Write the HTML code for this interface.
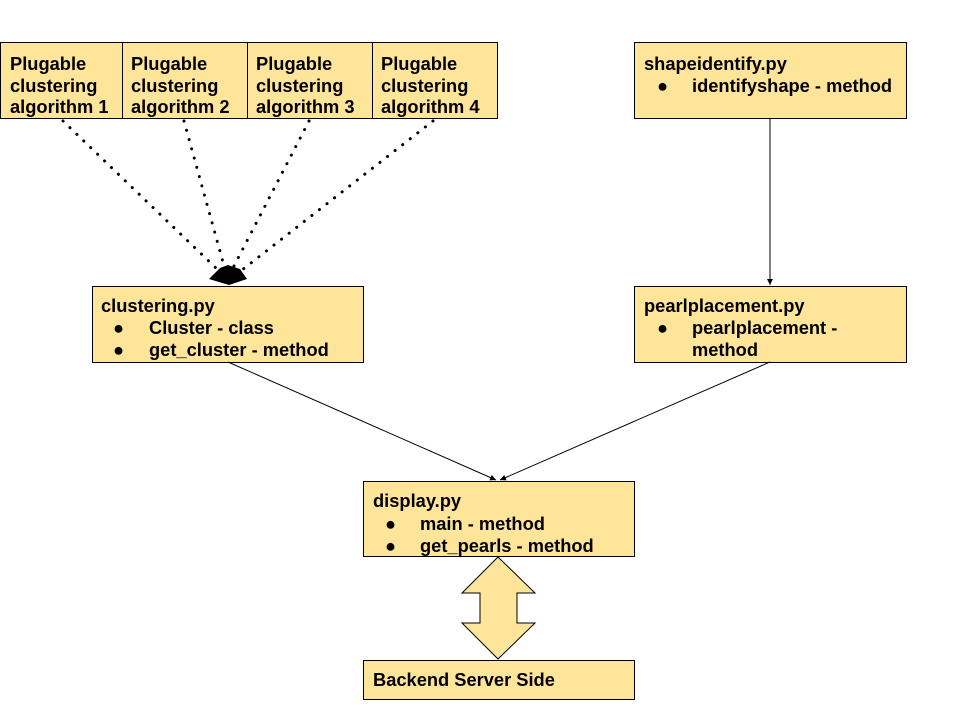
<!DOCTYPE html>
<html><head><meta charset="utf-8"><style>
html,body{margin:0;padding:0;background:#fff;}
svg{display:block;}
text{font-family:"Liberation Sans",Arial,sans-serif;font-weight:bold;font-size:18.3px;fill:#000;}
</style></head><body>
<svg width="960" height="720" viewBox="0 0 960 720" xmlns="http://www.w3.org/2000/svg">
<defs>
<marker id="ah" markerWidth="8" markerHeight="8" refX="6" refY="3" orient="auto" markerUnits="userSpaceOnUse">
<path d="M0,0 L6,3 L0,6 z" fill="#000"/>
</marker>
</defs>
<g fill="#ffe599" stroke="#000" stroke-width="1">
<rect x="0.5" y="42.5" width="122" height="76"/>
<rect x="122.5" y="42.5" width="125" height="76"/>
<rect x="247.5" y="42.5" width="125" height="76"/>
<rect x="372.5" y="42.5" width="125" height="76"/>
<rect x="634.5" y="42.5" width="272" height="76"/>
<rect x="92.5" y="286.5" width="271" height="76"/>
<rect x="634.5" y="286.5" width="272" height="76"/>
<rect x="363.5" y="481.5" width="271" height="75"/>
<rect x="363.5" y="660.5" width="271" height="39"/>
<polygon points="498,557 535,593 517,593 517,623 535,623 498,659 462,623 480,623 480,593 462,593"/>
</g>
<g stroke="#000" stroke-width="3" stroke-dasharray="0.1 9.5" stroke-linecap="round">
<line x1="63" y1="121" x2="218" y2="270"/>
<line x1="184" y1="121" x2="224" y2="266"/>
<line x1="309" y1="121" x2="234" y2="266"/>
<line x1="433" y1="121" x2="242" y2="270"/>
</g>
<polygon points="209,279 220,268 228,265 240,269 247,279 229,285" fill="#000"/>
<g stroke="#000" stroke-width="1" fill="none">
<line x1="770" y1="118" x2="770" y2="285" marker-end="url(#ah)"/>
<line x1="228" y1="362" x2="496" y2="480" marker-end="url(#ah)"/>
<line x1="770" y1="362" x2="500" y2="480" marker-end="url(#ah)"/>
</g>
<text x="10" y="70">Plugable</text><text x="10" y="92">clustering</text><text x="10" y="113">algorithm 1</text>
<text x="131" y="70">Plugable</text><text x="131" y="92">clustering</text><text x="131" y="113">algorithm 2</text>
<text x="256" y="70">Plugable</text><text x="256" y="92">clustering</text><text x="256" y="113">algorithm 3</text>
<text x="381" y="70">Plugable</text><text x="381" y="92">clustering</text><text x="381" y="113">algorithm 4</text>
<text x="644" y="70">shapeidentify.py</text>
<text x="657" y="92">●</text><text x="692" y="92">identifyshape - method</text>
<text x="101" y="312">clustering.py</text>
<text x="113" y="334">●</text><text x="149" y="334">Cluster - class</text>
<text x="113" y="356">●</text><text x="149" y="356">get_cluster - method</text>
<text x="644" y="312">pearlplacement.py</text>
<text x="657" y="334">●</text><text x="692" y="334">pearlplacement -</text>
<text x="692" y="356">method</text>
<text x="373" y="507">display.py</text>
<text x="385" y="530">●</text><text x="420" y="530">main - method</text>
<text x="385" y="552">●</text><text x="420" y="552">get_pearls - method</text>
<text x="373" y="686">Backend Server Side</text>
</svg>
</body></html>
